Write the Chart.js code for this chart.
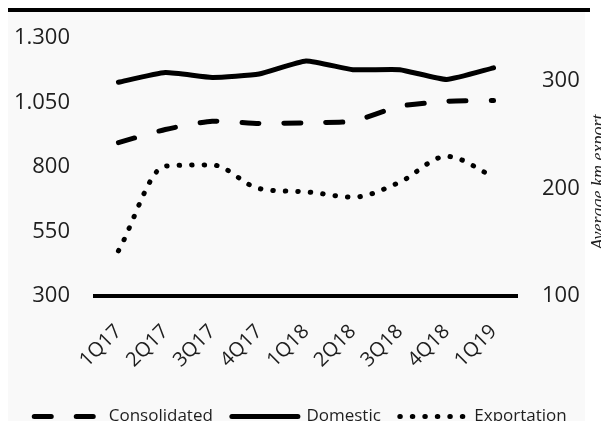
<!DOCTYPE html>
<html>
<head>
<meta charset="utf-8">
<script src="https://cdn.jsdelivr.net/npm/chart.js@4.4.1/dist/chart.umd.min.js"></script>
<style>
  html, body { margin: 0; padding: 0; background: #fff; overflow: hidden; }
  #panel { position: absolute; left: 8px; top: 12px; width: 577px; height: 409px; background: #f9f9f9; }
  #rule { position: absolute; left: 8px; top: 8px; width: 582px; height: 4px; background: #000; }
  #wrap { position: absolute; left: 0; top: 0; width: 601px; height: 435px; }
</style>
</head>
<body>
<div id="panel"></div>
<div id="rule"></div>
<div id="wrap"><canvas id="chart"></canvas></div>
<script>
// quarterly figures
const quarters = ['1Q17', '2Q17', '3Q17', '4Q17', '1Q18', '2Q18', '3Q18', '4Q18', '1Q19'];
const consolidated = [895, 946, 978, 969, 972, 978, 1036, 1055, 1058];
const domestic = [1129, 1167, 1148, 1161, 1212, 1178, 1178, 1140, 1185];
const exportation = [142, 221, 222, 200, 197, 192, 206, 230, 211];
const leftTicks = [300, 550, 800, 1050, 1300];
const rightTicks = [100, 200, 300];

const ink = '#1e1e1e';

// thousands with a dot, like "1.300"
function dotted(v) {
    return String(v).replace(/\B(?=(\d{3})+(?!\d))/g, '.');
}

const sideTitle = {
    id: 'sideTitle',
    afterDraw(chart) {
        const ctx = chart.ctx;
        ctx.save();
        ctx.translate(599, 182);
        ctx.rotate(-Math.PI / 2);
        ctx.font = 'italic 18px "Liberation Serif"';
        ctx.fillStyle = ink;
        ctx.textAlign = 'center';
        ctx.fillText('Average km export', 0, 0);
        ctx.restore();
    }
};

// legend samples should use the line's own dash, not the point style
function legendItems(chart) {
    const items = Chart.defaults.plugins.legend.labels.generateLabels(chart);
    items.forEach(item => {
        const ds = chart.data.datasets[item.datasetIndex];
        item.pointStyle = 'line';
        item.lineDash = ds.borderDash || [];
        item.lineCap = ds.borderCapStyle;
        item.lineWidth = ds.borderWidth;
        item.strokeStyle = ds.borderColor;
    });
    return items;
}

const ctx = document.getElementById('chart').getContext('2d');

new Chart(ctx, {
    type: 'line',
    data: {
        labels: quarters,
        datasets: [
            {
                label: 'Consolidated',
                data: consolidated,
                yAxisID: 'y',
                borderColor: '#000',
                backgroundColor: '#000',
                borderWidth: 5,
                borderDash: [17, 25],
                borderCapStyle: 'round',
                borderJoinStyle: 'round',
                tension: 0.2,
                pointRadius: 0
            },
            {
                label: 'Domestic',
                data: domestic,
                yAxisID: 'y',
                borderColor: '#000',
                backgroundColor: '#000',
                borderWidth: 5,
                borderCapStyle: 'round',
                borderJoinStyle: 'round',
                tension: 0.15,
                pointRadius: 0
            },
            {
                label: 'Exportation',
                data: exportation,
                yAxisID: 'y1',
                borderColor: '#000',
                backgroundColor: '#000',
                borderWidth: 5,
                borderDash: [0.5, 12],
                borderCapStyle: 'round',
                borderJoinStyle: 'round',
                cubicInterpolationMode: 'monotone',
                pointRadius: 0
            }
        ]
    },
    options: {
        responsive: true,
        maintainAspectRatio: false,
        animation: false,
        events: [],
        layout: {
            padding: { top: 36, left: 0, right: 0, bottom: 0 }
        },
        plugins: {
            legend: {
                position: 'bottom',
                labels: {
                    usePointStyle: true,
                    pointStyle: 'line',
                    pointStyleWidth: 66,
                    padding: 19,
                    color: ink,
                    font: { family: '"Open Sans"', size: 17 },
                    generateLabels: legendItems
                }
            },
            title: { display: false },
            tooltip: { enabled: false }
        },
        scales: {
            x: {
                offset: true,
                afterFit: s => { s.height = 93; },
                grid: { display: false, drawTicks: false },
                border: { display: true, color: '#000', width: 4 },
                ticks: {
                    autoSkip: false,
                    maxRotation: 45,
                    minRotation: 45,
                    padding: 24,
                    color: ink,
                    font: { family: '"Open Sans"', size: 20 }
                }
            },
            y: {
                position: 'left',
                min: 300,
                max: 1300,
                afterFit: s => { s.width = 95; },
                afterBuildTicks: s => { s.ticks = leftTicks.map(v => ({ value: v })); },
                grid: { display: false, drawTicks: false },
                border: { display: false },
                ticks: {
                    padding: 25,
                    color: ink,
                    font: { family: '"Open Sans"', size: 22 },
                    callback: v => dotted(v)
                }
            },
            y1: {
                position: 'right',
                min: 100,
                max: 340,
                afterFit: s => { s.width = 84; },
                afterBuildTicks: s => { s.ticks = rightTicks.map(v => ({ value: v })); },
                grid: { display: false, drawTicks: false },
                border: { display: false },
                ticks: {
                    padding: 25,
                    color: ink,
                    font: { family: '"Open Sans"', size: 22 }
                }
            }
        }
    },
    plugins: [sideTitle]
});
</script>
</body>
</html>
